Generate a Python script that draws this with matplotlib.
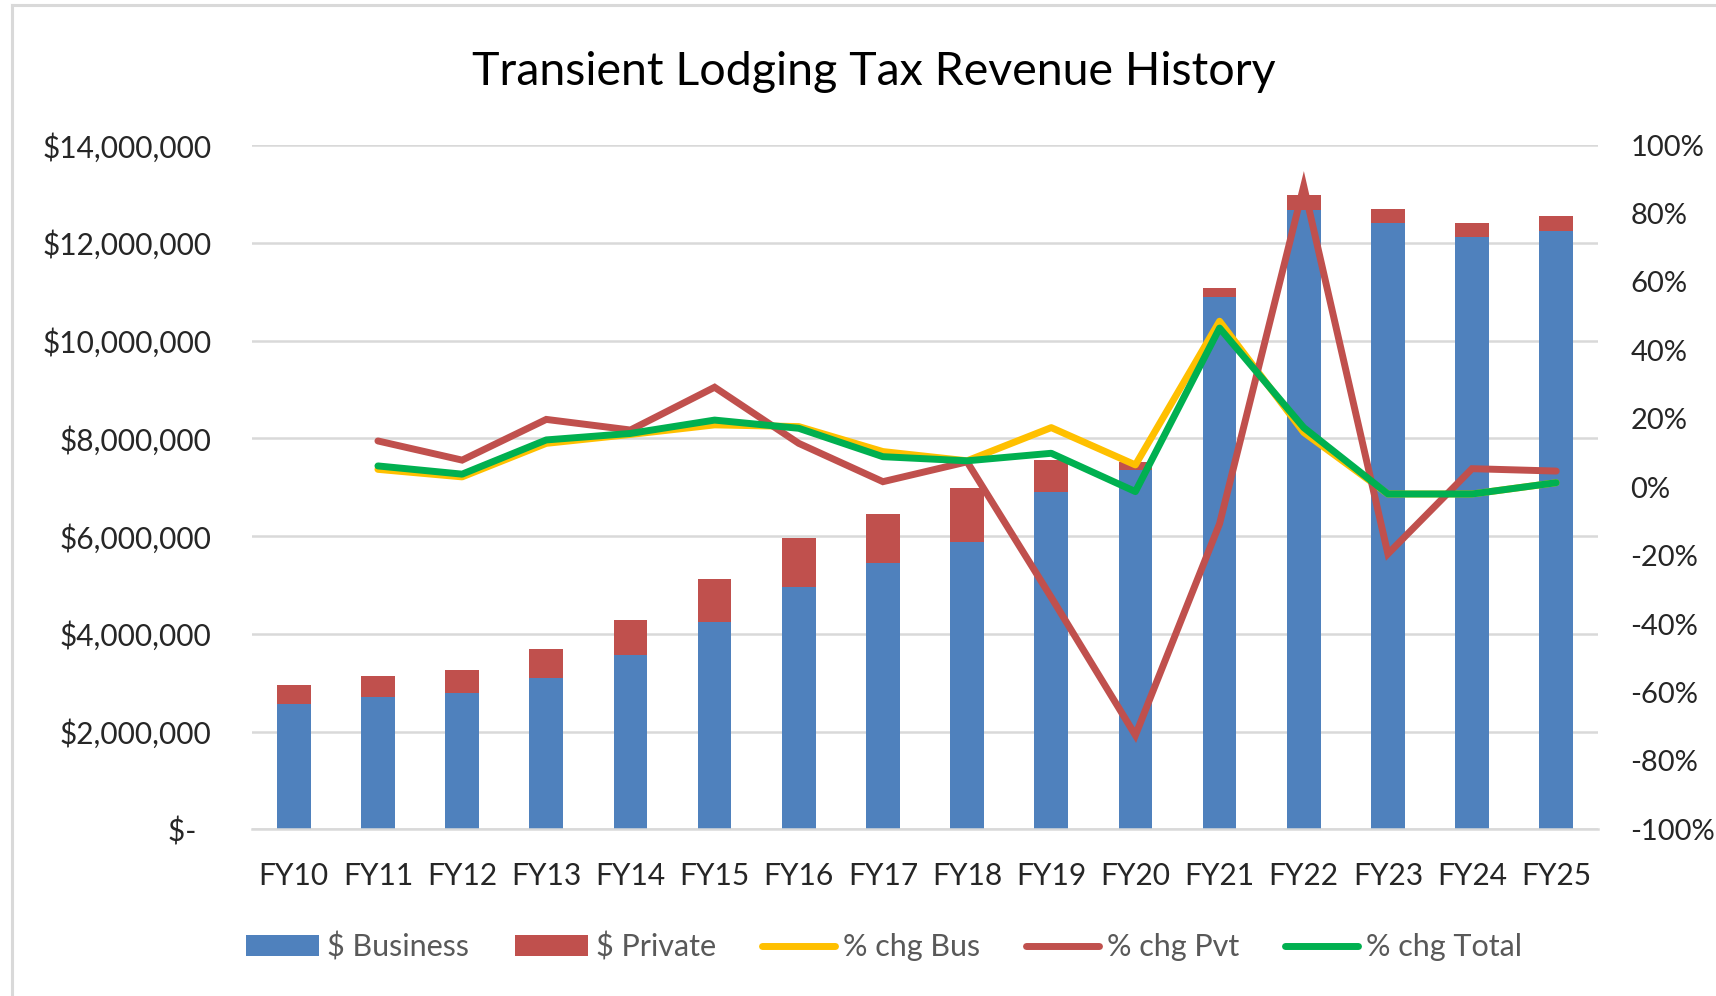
import numpy as np
import matplotlib
matplotlib.use("Agg")
import matplotlib.pyplot as plt
from matplotlib.ticker import FuncFormatter
from matplotlib.lines import Line2D

plt.rcParams["font.family"] = ["Lato", "DejaVu Sans"]

# Data
years = ["FY10", "FY11", "FY12", "FY13", "FY14", "FY15", "FY16", "FY17",
         "FY18", "FY19", "FY20", "FY21", "FY22", "FY23", "FY24", "FY25"]

business = [2560000, 2700000, 2780000, 3100000, 3570000, 4240000, 4960000, 5440000,
            5885000, 6910000, 7350000, 10900000, 12660000, 12400000, 12110000, 12250000]
private = [400000, 440000, 470000, 590000, 710000, 880000, 1000000, 1020000,
           1095000, 650000, 170000, 170000, 320000, 290000, 290000, 290000]

# % change series start at FY11
pct_years = years[1:]
pct_bus = [5.2, 3.0, 12.8, 15.4, 18.2, 17.7, 10.4, 7.7, 17.4, 6.5, 48.5, 16.0, -2.0, -2.0, 1.3]
pct_pvt = [13.5, 7.9, 19.8, 16.7, 29.2, 12.8, 1.6, 7.4, -32.2, -72.5, -10.7, 88.0, -19.5, 5.4, 4.7]
pct_total = [6.2, 3.8, 13.8, 15.7, 19.6, 17.2, 8.9, 7.7, 9.9, -1.3, 46.5, 17.4, -2.0, -2.0, 1.3]

BLUE = "#4F81BD"
RED = "#C0504D"
YELLOW = "#FFC000"
GREEN = "#00B050"
GRID = "#D9D9D9"
TXT = "#262626"

W, H = 1716, 996
fig = plt.figure(figsize=(W / 100, H / 100), dpi=100)
ax = fig.add_axes([251.7 / W, 1 - 829.3 / H, (1598.3 - 251.7) / W, (829.3 - 145) / H])

x = np.arange(len(years))
xp = np.arange(1, len(years))

# Bars
b1 = ax.bar(x, business, width=0.4, color=BLUE, label="$ Business", zorder=2)
b2 = ax.bar(x, private, width=0.4, bottom=business, color=RED, label="$ Private", zorder=2)

ax.set_xlim(-0.5, len(years) - 0.5)
ax.set_ylim(0, 14000000)
ax.set_yticks(np.arange(0, 14000001, 2000000))
ax.yaxis.set_major_formatter(FuncFormatter(lambda v, p: "$-  " if v == 0 else f"${v:,.0f}"))
ax.set_xticks(x)
ax.set_xticklabels(years)
ax.grid(axis="y", color=GRID, linewidth=1.8)
ax.set_axisbelow(True)
for s in ["top", "right", "left"]:
    ax.spines[s].set_visible(False)
ax.spines["bottom"].set_color(GRID)
ax.spines["bottom"].set_linewidth(1.8)
ax.tick_params(axis="y", length=0, pad=29, labelsize=21.5, labelcolor=TXT)
ax.tick_params(axis="x", length=0, pad=23.5, labelsize=21.5, labelcolor=TXT)

# Lines on secondary axis
ax2 = ax.twinx()
l1, = ax2.plot(xp, pct_bus, color=YELLOW, lw=5, solid_capstyle="round",
               solid_joinstyle="round", label="% chg Bus")
l2, = ax2.plot(xp, pct_pvt, color=RED, lw=5, solid_capstyle="round",
               solid_joinstyle="miter", label="% chg Pvt")
l3, = ax2.plot(xp, pct_total, color=GREEN, lw=5, solid_capstyle="round",
               solid_joinstyle="round", label="% chg Total")
ax2.set_ylim(-100, 100)
ax2.set_yticks(np.arange(-100, 101, 20))
ax2.yaxis.set_major_formatter(FuncFormatter(lambda v, p: f"{v:.0f}%"))
ax2.tick_params(axis="y", length=0, pad=23, labelsize=21, labelcolor=TXT)
for s in ax2.spines.values():
    s.set_visible(False)

# Title
fig.text(874 / W, 1 - 72 / H, "Transient Lodging Tax Revenue History",
         ha="center", va="center", fontsize=33.5, color="#000000")

# Legend
leg = fig.legend(handles=[b1, b2, l1, l2, l3], loc="center left",
                 bbox_to_anchor=(246 / W, 1 - 946.7 / H), ncol=5, frameon=False,
                 fontsize=22, handlelength=2.4, handleheight=0.68, handletextpad=0.25,
                 columnspacing=1.5, borderpad=0, borderaxespad=0)
for t in leg.get_texts():
    t.set_color("#595959")

# Chart area border (left and top edges visible)
fig.add_artist(Line2D([12 / W, 12 / W], [0, 1 - 5 / H], color=GRID, lw=2.2))
fig.add_artist(Line2D([12 / W, 1], [1 - 5 / H, 1 - 5 / H], color=GRID, lw=2.2))

fig.savefig("out.png", dpi=100)
